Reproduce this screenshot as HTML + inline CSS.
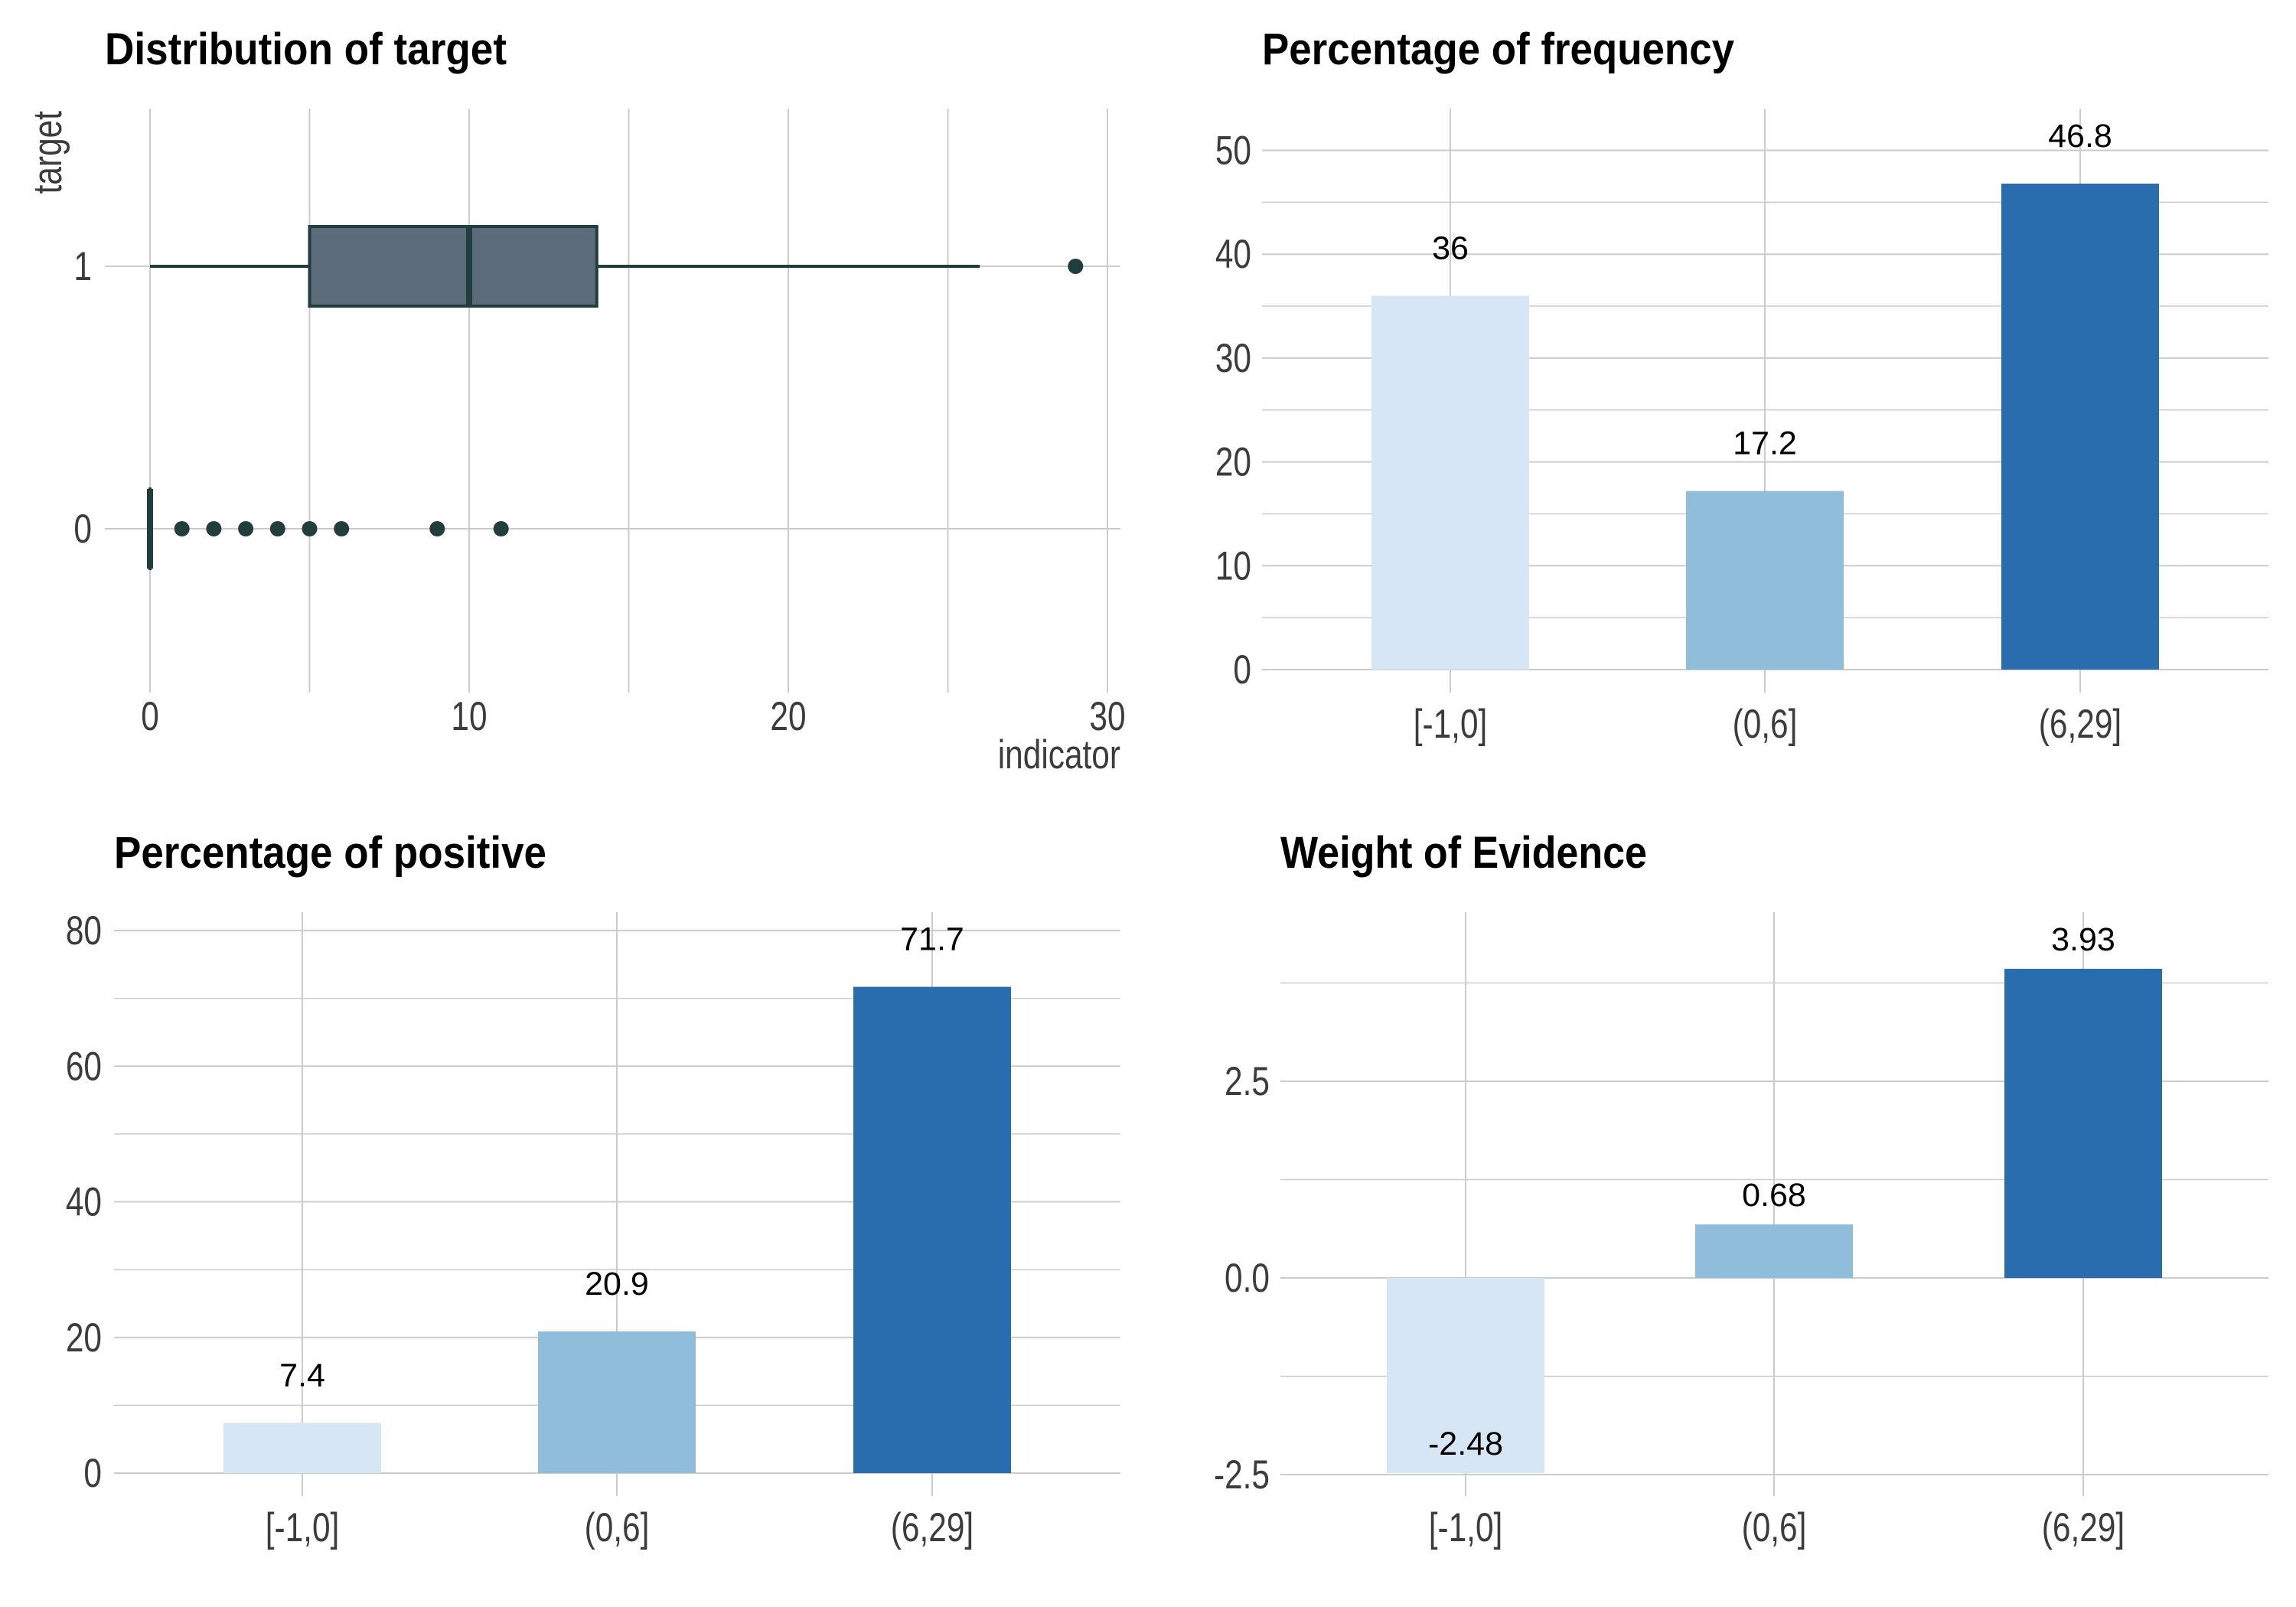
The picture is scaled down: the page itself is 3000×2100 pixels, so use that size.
<!DOCTYPE html>
<html><head><meta charset="utf-8"><style>
html,body{margin:0;padding:0;background:#fff;}
svg{display:block;}
text{font-family:"Liberation Sans Narrow","Liberation Sans",sans-serif;}
.tick{fill:#3c3c3c;font-size:53px;}
.title{fill:#000;font-size:58px;font-weight:bold;}
.val{font-family:"Liberation Sans",sans-serif;fill:#000;font-size:43px;}
</style></head><body>
<svg id="chart" width="3000" height="2100" viewBox="0 0 3000 2100" xmlns="http://www.w3.org/2000/svg"></svg>
<script>
// ---- data ----
const binCategories = ["[-1,0]", "(0,6]", "(6,29]"];
const binColors = ["#d6e6f4", "#8fbdda", "#2a6daf"];
const freqValues = [36, 17.2, 46.8];
const freqLabels = ["36", "17.2", "46.8"];
const posValues = [7.4, 20.9, 71.7];
const posLabels = ["7.4", "20.9", "71.7"];
const woeValues = [-2.48, 0.68, 3.93];
const woeLabels = ["-2.48", "0.68", "3.93"];
const freqTicks = [0, 10, 20, 30, 40, 50];
const freqMinor = [5, 15, 25, 35, 45];
const posTicks = [0, 20, 40, 60, 80];
const posMinor = [10, 30, 50, 70];
const woeTicks = [-2.5, 0, 2.5];
const woeTickLabels = ["-2.5", "0.0", "2.5"];
const woeMinor = [-1.25, 1.25, 3.75];
// boxplot data
const boxTargets = ["0", "1"];
const box1 = {min: 0, q1: 5, median: 10, q3: 14, max: 26};
const box1Outliers = [29];
const box0 = {min: 0, q1: 0, median: 0, q3: 0, max: 0};
const box0Outliers = [1, 2, 3, 4, 5, 6, 9, 11];
const indicatorTicks = [0, 10, 20, 30];
const indicatorMinor = [5, 15, 25];

const svg = document.getElementById('chart');
const NS = 'http://www.w3.org/2000/svg';
function mk(tag, attrs, parent, txt) {
  const e = document.createElementNS(NS, tag);
  for (const k in attrs) e.setAttribute(k, attrs[k]);
  if (txt !== undefined) e.textContent = txt;
  (parent || svg).appendChild(e);
  return e;
}
// condensed tick text
function ctext(x, y, anchor, parent, txt, extra) {
  const a = {x: 0, y: 0, class: 'tick', 'text-anchor': anchor, transform: 'translate(' + x + ',' + y + ') scale(0.8,1)'};
  for (const k in (extra || {})) a[k] = extra[k];
  return mk('text', a, parent, txt);
}
const GRID = '#cccccc';

// ---- panel 1: boxplot ----
(function () {
  const g = mk('g', {});
  
  
  const L = 137, R = 1464, T = 142, B = 905;
  const x = v => 196 + v * (1447 - 196) / 30;
  const y = t => t === "1" ? 348 : 691;
  const t = mk('text', {x: L, y: 84, class: 'title', textLength: 525, lengthAdjust: 'spacingAndGlyphs'}, g, 'Distribution of target');
  
  
  indicatorMinor.concat(indicatorTicks).forEach(v => {
    const l = mk('line', {x1: x(v), x2: x(v), y1: T, y2: B, stroke: GRID, 'stroke-width': 2}, g);
    
    
  });
  boxTargets.forEach(tg => {
    const l = mk('line', {x1: L, x2: R, y1: y(tg), y2: y(tg), stroke: GRID, 'stroke-width': 2}, g);
    
    
    const tx = ctext(120, y(tg) + 18, 'end', g, tg);
    
    
  });
  indicatorTicks.forEach(v => {
    const tx = ctext(x(v), 954, 'middle', g, String(v));
    
    
  });
  const xt = ctext(R, 1004, 'end', g, 'indicator', {fill: '#000'});
  
  
  const yt = mk('text', {x: 0, y: 0, class: 'tick', fill: '#000', 'text-anchor': 'end', transform: 'translate(80,145) rotate(-90) scale(0.8,1)'}, g, 'target');
  
  
  const C = '#213d3d', hw = 52;
  function drawBox(b, tg, outs) {
    const cy = y(tg);
    const w1 = mk('line', {x1: x(b.min), x2: x(b.q1), y1: cy, y2: cy, stroke: C, 'stroke-width': 4}, g);
    
    
    const w2 = mk('line', {x1: x(b.q3), x2: x(b.max), y1: cy, y2: cy, stroke: C, 'stroke-width': 4}, g);
    
    
    const r = mk('rect', {x: x(b.q1), y: cy - hw, width: Math.max(0.1, x(b.q3) - x(b.q1)), height: 2 * hw, fill: '#5b6b7a', stroke: C, 'stroke-width': 4}, g);
    
    
    const m = mk('line', {x1: x(b.median), x2: x(b.median), y1: cy - hw, y2: cy + hw, stroke: C, 'stroke-width': 8}, g);
    
    
    outs.forEach(o => {
      const c = mk('circle', {cx: x(o), cy: cy, r: 10, fill: C}, g);
      
      
    });
  }
  drawBox(box1, "1", box1Outliers);
  drawBox(box0, "0", box0Outliers);
})();

// ---- bar panels ----
function barPanel(o) {
  const g = mk('g', {});
  
  
  const y = v => o.y0 + (o.yRef - o.y0) * v / o.vRef;
  const xs = o.xs;
  const bw = 206;
  const t = mk('text', {x: o.L, y: o.T - 58, class: 'title', textLength: o.tw, lengthAdjust: 'spacingAndGlyphs'}, g, o.title);
  
  
  o.minor.forEach(v => {
    const l = mk('line', {x1: o.L, x2: o.R, y1: y(v), y2: y(v), stroke: GRID, 'stroke-width': 1.5}, g);
    
    
  });
  o.ticks.forEach((v, i) => {
    const l = mk('line', {x1: o.L, x2: o.R, y1: y(v), y2: y(v), stroke: GRID, 'stroke-width': 2}, g);
    
    
    const tx = ctext(o.tickR, y(v) + 18, 'end', g, o.tickLabels[i]);
    
    
  });
  binCategories.forEach((c, i) => {
    const l = mk('line', {x1: xs[i], x2: xs[i], y1: o.T, y2: o.B, stroke: GRID, 'stroke-width': 2}, g);
    
    
  });
  binCategories.forEach((c, i) => {
    const v = o.values[i];
    const top = Math.min(y(v), y(0)), h = Math.abs(y(v) - y(0));
    const r = mk('rect', {x: xs[i] - bw / 2, y: top, width: bw, height: h, fill: binColors[i]}, g);
    
    
    const lb = mk('text', {x: xs[i], y: y(v) - o.off, class: 'val', 'text-anchor': 'middle'}, g, o.labels[i]);
    
    
    const xl = ctext(xs[i], o.xlY, 'middle', g, c);
    
    
  });
}
barPanel({name: 'frequency-panel', title: 'Percentage of frequency', tw: 617, L: 1649, R: 2964, T: 142, B: 905,
  xs: [1895, 2306, 2718], y0: 875, yRef: 196.5, vRef: 50, ticks: freqTicks, tickLabels: freqTicks.map(String),
  minor: freqMinor, values: freqValues, labels: freqLabels, off: 48, tickR: 1635, xlY: 964});
barPanel({name: 'positive-panel', title: 'Percentage of positive', tw: 565, L: 149, R: 1464, T: 1192, B: 1955,
  xs: [395, 806, 1218], y0: 1925, yRef: 1216, vRef: 80, ticks: posTicks, tickLabels: posTicks.map(String),
  minor: posMinor, values: posValues, labels: posLabels, off: 48, tickR: 133, xlY: 2014});
barPanel({name: 'woe-panel', title: 'Weight of Evidence', tw: 479, L: 1673, R: 2964, T: 1192, B: 1955,
  xs: [1915, 2318, 2722], y0: 1670, yRef: 1413, vRef: 2.5, ticks: woeTicks, tickLabels: woeTickLabels,
  minor: woeMinor, values: woeValues, labels: woeLabels, off: 24, tickR: 1659, xlY: 2014});
</script>
</body></html>
